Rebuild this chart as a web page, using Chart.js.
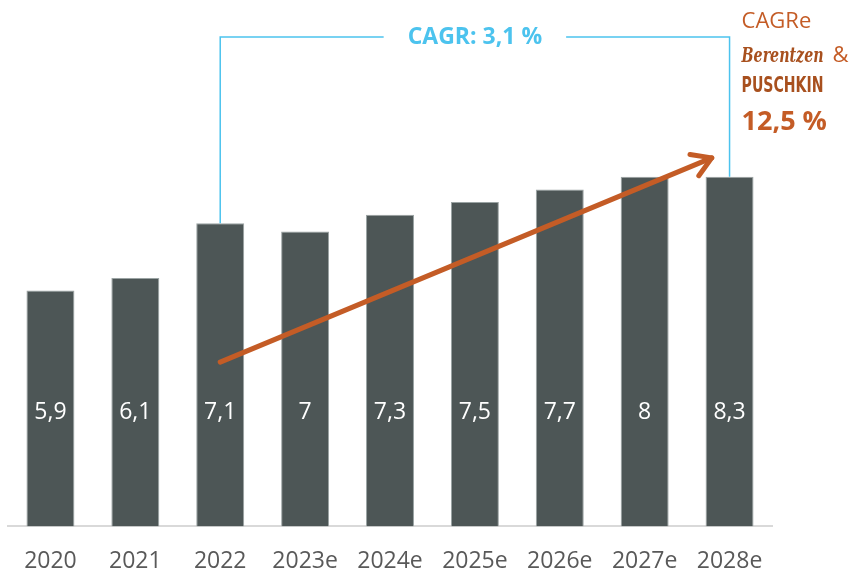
<!DOCTYPE html>
<html>
<head>
<meta charset="utf-8">
<script src="https://cdn.jsdelivr.net/npm/chart.js@4.4.0/dist/chart.umd.min.js"></script>
<style>
	html, body { margin: 0; padding: 0; background: #fff; }
	#wrap { width: 853px; height: 572px; }
</style>
</head>
<body>
<div id="wrap"><canvas id="marketChart"></canvas></div>
<script>
// categories and values
const years = ["2020", "2021", "2022", "2023e", "2024e", "2025e", "2026e", "2027e", "2028e"];
const barHeights = [5.6, 5.9, 7.2, 7.0, 7.4, 7.7, 8.0, 8.3, 8.3];
const valueLabels = ["5,9", "6,1", "7,1", "7", "7,3", "7,5", "7,7", "8", "8,3"];
const marketCagr = "CAGR: 3,1 %";
const companyCagr = "12,5 %";

const barColor = "#4d5656";
const blue = "#4cc3ee";
const orange = "#c45c26";
const fontName = '"Open Sans", "Noto Sans", sans-serif';

const overlay = {
	id: "overlay",
	afterDatasetsDraw(chart) {
		const ctx = chart.ctx;
		const x = chart.scales.x;
		const y = chart.scales.y;
		const bars = chart.getDatasetMeta(0).data;

		// numbers inside the bars
		ctx.save();
		ctx.fillStyle = "#ffffff";
		ctx.font = "23px " + fontName;
		ctx.textAlign = "center";
		ctx.textBaseline = "middle";
		bars.forEach(function (bar, i) {
			ctx.fillText(valueLabels[i], bar.x, y.getPixelForValue(2.7));
		});
		ctx.restore();

		// CAGR bracket from 2022 to 2028e
		const left = x.getPixelForValue(2);
		const right = x.getPixelForValue(8);
		const top = y.getPixelForValue(11.62);
		const mid = (left + right) / 2;
		ctx.save();
		ctx.font = "bold 23px " + fontName;
		const tw = ctx.measureText(marketCagr).width;
		ctx.strokeStyle = blue;
		ctx.lineWidth = 1.5;
		ctx.beginPath();
		ctx.moveTo(left, y.getPixelForValue(barHeights[2]));
		ctx.lineTo(left, top);
		ctx.lineTo(mid - tw / 2 - 24, top);
		ctx.moveTo(mid + tw / 2 + 24, top);
		ctx.lineTo(right, top);
		ctx.lineTo(right, y.getPixelForValue(barHeights[8]));
		ctx.stroke();
		ctx.fillStyle = blue;
		ctx.textAlign = "center";
		ctx.textBaseline = "middle";
		ctx.fillText(marketCagr, mid, top);
		ctx.restore();

		// orange growth arrow
		const x0 = x.getPixelForValue(2);
		const y0 = y.getPixelForValue(3.9);
		const x1 = x.getPixelForValue(7) + 0.79 * (x.getPixelForValue(8) - x.getPixelForValue(7));
		const y1 = y.getPixelForValue(8.75);
		const ang = Math.atan2(y1 - y0, x1 - x0);
		ctx.save();
		ctx.strokeStyle = orange;
		ctx.lineWidth = 5;
		ctx.lineCap = "round";
		ctx.lineJoin = "round";
		ctx.beginPath();
		ctx.moveTo(x0, y0);
		ctx.lineTo(x1, y1);
		ctx.stroke();
		ctx.beginPath();
		ctx.moveTo(x1 - 22 * Math.cos(ang - 0.55), y1 - 22 * Math.sin(ang - 0.55));
		ctx.lineTo(x1, y1);
		ctx.lineTo(x1 - 22 * Math.cos(ang + 0.55), y1 - 22 * Math.sin(ang + 0.55));
		ctx.stroke();
		ctx.restore();

		// company CAGR text on the right
		const tx = right + 12;
		ctx.save();
		ctx.textAlign = "left";
		ctx.textBaseline = "alphabetic";
		ctx.fillStyle = orange;
		ctx.font = "22px " + fontName;
		ctx.fillText("CAGRe", tx, 28);
		ctx.fillStyle = "#a8501e";
		ctx.font = 'italic bold 21px "DejaVu Serif", serif';
		const bw = ctx.measureText("Berentzen").width;
		ctx.save();
		ctx.translate(tx, 62);
		ctx.scale(82 / bw, 1);
		ctx.fillText("Berentzen", 0, 0);
		ctx.restore();
		ctx.fillStyle = orange;
		ctx.font = "22px " + fontName;
		ctx.fillText("&", tx + 91, 62);
		ctx.fillStyle = "#a8501e";
		ctx.font = 'bold 21px "DejaVu Sans", sans-serif';
		const pw = ctx.measureText("PUSCHKIN").width;
		ctx.save();
		ctx.translate(tx, 92);
		ctx.scale(82 / pw, 1);
		ctx.fillText("PUSCHKIN", 0, 0);
		ctx.restore();
		ctx.fillStyle = orange;
		ctx.font = "bold 27px " + fontName;
		ctx.fillText(companyCagr, tx, 130);
		ctx.restore();
	},
};

const ctx = document.getElementById("marketChart").getContext("2d");
const marketChart = new Chart(ctx, {
	type: "bar",
	data: {
		labels: years,
		datasets: [
			{
				data: barHeights,
				backgroundColor: barColor,
				borderColor: "#9aa3a3",
				borderWidth: 1,
				categoryPercentage: 1,
				barPercentage: 0.565,
			},
		],
	},
	options: {
		responsive: true,
		maintainAspectRatio: false,
		animation: false,
		layout: { padding: { left: 8, right: 81, top: 21, bottom: -24 } },
		plugins: { legend: { display: false }, tooltip: { enabled: false } },
		scales: {
			x: {
				grid: { display: false, drawTicks: false },
				border: { color: "#d9d9d9", width: 2 },
				ticks: { color: "#595959", font: { family: fontName, size: 23 }, padding: 21 },
			},
			y: {
				display: false,
				min: 0,
				max: 12,
			},
		},
	},
	plugins: [overlay],
});
</script>
</body>
</html>
